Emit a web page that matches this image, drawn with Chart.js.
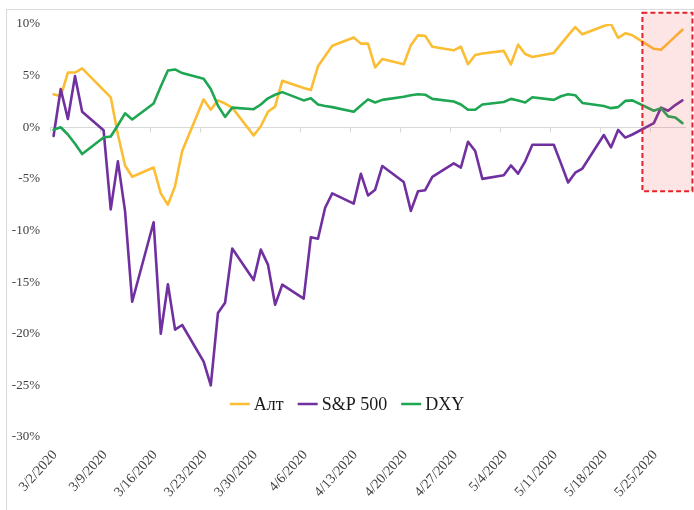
<!DOCTYPE html>
<html>
<head>
<meta charset="utf-8">
<script src="https://cdn.jsdelivr.net/npm/chart.js@4.4.0/dist/chart.umd.min.js"></script>
<style>
  html, body { margin: 0; padding: 0; background: #fff; }
</style>
</head>
<body>
<canvas id="marketChart" width="694" height="510"></canvas>
<script>
// trading days, 3/2/2020 - 5/29/2020
const dates = [
    "3/2/2020", "3/3/2020", "3/4/2020", "3/5/2020", "3/6/2020",
    "3/9/2020", "3/10/2020", "3/11/2020", "3/12/2020", "3/13/2020",
    "3/16/2020", "3/17/2020", "3/18/2020", "3/19/2020", "3/20/2020",
    "3/23/2020", "3/24/2020", "3/25/2020", "3/26/2020", "3/27/2020",
    "3/30/2020", "3/31/2020", "4/1/2020", "4/2/2020", "4/3/2020",
    "4/6/2020", "4/7/2020", "4/8/2020", "4/9/2020", "4/10/2020",
    "4/13/2020", "4/14/2020", "4/15/2020", "4/16/2020", "4/17/2020",
    "4/20/2020", "4/21/2020", "4/22/2020", "4/23/2020", "4/24/2020",
    "4/27/2020", "4/28/2020", "4/29/2020", "4/30/2020", "5/1/2020",
    "5/4/2020", "5/5/2020", "5/6/2020", "5/7/2020", "5/8/2020",
    "5/11/2020", "5/12/2020", "5/13/2020", "5/14/2020", "5/15/2020",
    "5/18/2020", "5/19/2020", "5/20/2020", "5/21/2020", "5/22/2020",
    "5/25/2020", "5/26/2020", "5/27/2020", "5/28/2020", "5/29/2020",
];

const altValues = [
    3.2, 3.0, 5.3, 5.3, 5.7,
    3.6, 2.9, -0.7, -3.7, -4.8,
    -3.9, -6.4, -7.5, -5.7, -2.3,
    2.7, 1.7, 2.6, 2.3, 1.9,
    -0.8, 0.1, 1.5, 2.0, 4.5,
    3.8, 3.6, 5.9, 6.9, 7.9,
    8.7, 8.1, 8.1, 5.8, 6.6,
    6.1, 7.95, 8.9, 8.85, 7.8,
    7.45, 7.8, 6.1, 7.0, 7.15,
    7.4, 6.1, 8.0, 7.1, 6.8,
    7.2, 8.05, 8.9, 9.7, 9.0,
    9.8, 10.0, 8.65, 9.1, 8.9,
    7.6, 7.5, 8.15, 8.8, 9.45,
];

const spxValues = [
    -0.85, 3.7, 0.8, 4.95, 1.5,
    -0.3, -7.95, -3.3, -8.1, -16.9,
    -9.2, -20.0, -15.2, -19.6, -19.15,
    -22.7, -25.0, -18.0, -17.0, -11.75,
    -14.8, -11.85, -13.3, -17.2, -15.25,
    -16.6, -10.65, -10.8, -7.8, -6.4,
    -7.4, -4.5, -6.6, -6.05, -3.75,
    -5.3, -8.1, -6.2, -6.1, -4.8,
    -3.5, -3.9, -1.4, -2.3, -5.0,
    -4.65, -3.7, -4.5, -3.3, -1.7,
    -1.7, -3.5, -5.35, -4.4, -4.0,
    -0.75, -1.95, -0.26, -1.0, -0.7,
    0.4, 1.9, 1.6, 2.15, 2.6,
];

const dxyValues = [
    -0.25, 0.0, -0.7, -1.6, -2.6,
    -1.0, -0.9, 0.2, 1.35, 0.75,
    2.3, 3.95, 5.5, 5.6, 5.25,
    4.7, 3.7, 2.1, 1.0, 1.9,
    1.75, 2.2, 2.8, 3.15, 3.4,
    2.6, 2.8, 2.2, 2.05, 1.95,
    1.5, 2.1, 2.7, 2.4, 2.65,
    2.95, 3.1, 3.2, 3.15, 2.75,
    2.5, 2.2, 1.7, 1.7, 2.2,
    2.45, 2.75, 2.6, 2.4, 2.9,
    2.65, 3.0, 3.2, 3.1, 2.35,
    2.05, 1.85, 1.95, 2.55, 2.6,
    1.6, 1.85, 1.05, 0.95, 0.4,
];

const tickLabels = [
    "3/2/2020", "3/9/2020", "3/16/2020", "3/23/2020", "3/30/2020", "4/6/2020", "4/13/2020",
    "4/20/2020", "4/27/2020", "5/4/2020", "5/11/2020", "5/18/2020", "5/25/2020",
];
const yTicks = [-30, -25, -20, -15, -10, -5, 0, 5, 10];

// highlighted window (days from 3/2, percent)
const boxDays = [82.9, 89.9];
const boxPct = [-6.2, 11.1];

const DAY = 86400000;
function toDay(s) {
    const [m, d, y] = s.split("/").map(Number);
    return Date.UTC(y, m - 1, d) / DAY;
}
const day0 = toDay(tickLabels[0]);
const dayOf = (s) => toDay(s) - day0;
const tickDays = tickLabels.map(dayOf);
// excel date axis puts points between tick marks
const xs = dates.map((s) => dayOf(s) + 0.5);
const toPoints = (vals) => vals.map((v, i) => ({ x: xs[i], y: v }));

const serif = "'Liberation Serif', 'Times New Roman', serif";

const frameAndAxis = {
    id: "frameAndAxis",
    beforeDraw(chart) {
        const c = chart.ctx;
        c.save();
        c.strokeStyle = "#d9d9d9";
        c.lineWidth = 1;
        c.strokeRect(6.5, 9.5, 720, 540);
        c.restore();
    },
    beforeDatasetsDraw(chart) {
        const { ctx: c, scales, chartArea } = chart;
        const y0 = Math.round(scales.y.getPixelForValue(0)) + 0.5;
        c.save();
        c.strokeStyle = "#d9d9d9";
        c.lineWidth = 1;
        c.beginPath();
        c.moveTo(chartArea.left, y0);
        c.lineTo(chartArea.right, y0);
        tickDays.forEach((d) => {
            const x = Math.round(scales.x.getPixelForValue(d)) + 0.5;
            c.moveTo(x, y0);
            c.lineTo(x, y0 + 5);
        });
        c.stroke();
        c.restore();
    },
    afterDraw(chart) {
        const { ctx: c, scales } = chart;
        // highlight box
        const x1 = scales.x.getPixelForValue(boxDays[0]);
        const x2 = scales.x.getPixelForValue(boxDays[1]);
        const y1 = scales.y.getPixelForValue(boxPct[1]);
        const y2 = scales.y.getPixelForValue(boxPct[0]);
        c.save();
        c.fillStyle = "rgba(240, 70, 70, 0.14)";
        c.fillRect(x1, y1, x2 - x1, y2 - y1);
        c.strokeStyle = "#e3242b";
        c.lineWidth = 2;
        c.setLineDash([5, 3]);
        c.strokeRect(x1, y1, x2 - x1, y2 - y1);
        c.restore();

        // legend
        c.save();
        c.font = "18px " + serif;
        c.textBaseline = "middle";
        const items = chart.data.datasets.map((ds) => ({
            label: ds.label,
            color: ds.borderColor,
            w: c.measureText(ds.label).width,
        }));
        const lineW = 20, gap = 4, spacing = 14;
        const total = items.reduce((s, it) => s + lineW + gap + it.w, 0) + spacing * (items.length - 1);
        let x = chart.width / 2 - total / 2;
        const y = 404;
        items.forEach((it) => {
            c.strokeStyle = it.color;
            c.lineWidth = 2.5;
            c.beginPath();
            c.moveTo(x, y);
            c.lineTo(x + lineW, y);
            c.stroke();
            x += lineW + gap;
            c.fillStyle = "#1a1a1a";
            c.fillText(it.label, x, y + 1);
            x += it.w + spacing;
        });
        c.restore();
    },
};

const ctx = document.getElementById("marketChart");
new Chart(ctx, {
    type: "line",
    data: {
        datasets: [
            {
                label: "Алт",
                data: toPoints(altValues),
                borderColor: "#fbbd33",
                order: 3,
            },
            {
                label: "S&P 500",
                data: toPoints(spxValues),
                borderColor: "#7030a0",
                order: 2,
            },
            {
                label: "DXY",
                data: toPoints(dxyValues),
                borderColor: "#1fa653",
                order: 1,
            },
        ],
    },
    options: {
        responsive: false,
        animation: false,
        layout: { padding: { left: 6, top: 24, right: 8, bottom: 0 } },
        elements: {
            line: { borderWidth: 2.6, tension: 0, borderJoinStyle: "round", borderCapStyle: "round" },
            point: { radius: 0 },
        },
        plugins: {
            legend: { display: false },
            tooltip: { enabled: false },
        },
        scales: {
            x: {
                type: "linear",
                min: 0,
                max: dayOf(dates[dates.length - 1]) + 1,
                afterBuildTicks: (s) => {
                    s.ticks = tickDays.map((v) => ({ value: v }));
                },
                afterFit: (s) => {
                    s.height = 73;
                },
                grid: { display: false, drawTicks: false },
                border: { display: false },
                ticks: {
                    autoSkip: false,
                    minRotation: 48,
                    maxRotation: 48,
                    padding: 10,
                    labelOffset: 5,
                    color: "#404040",
                    font: { family: serif, size: 14 },
                    callback: (v, i) => tickLabels[i],
                },
            },
            y: {
                min: yTicks[0],
                max: yTicks[yTicks.length - 1],
                afterBuildTicks: (s) => {
                    s.ticks = yTicks.map((v) => ({ value: v }));
                },
                afterFit: (s) => {
                    s.width = 44;
                },
                grid: { display: false, drawTicks: false },
                border: { display: false },
                ticks: {
                    padding: 10,
                    color: "#404040",
                    font: { family: serif, size: 13 },
                    callback: (v) => v + "%",
                },
            },
        },
    },
    plugins: [frameAndAxis],
});
</script>
</body>
</html>
